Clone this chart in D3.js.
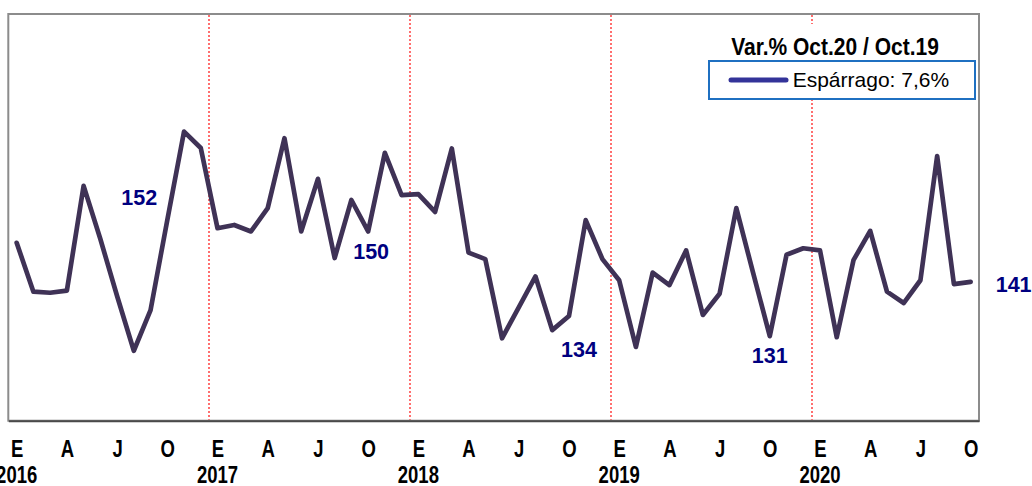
<!DOCTYPE html>
<html>
<head>
<meta charset="utf-8">
<script src="https://cdn.jsdelivr.net/npm/d3@7"></script>
<style>
body { margin: 0; background: #fff; }
svg { display: block; font-family: "Liberation Sans", Arial, sans-serif; }
</style>
</head>
<body>
<svg id="chart" width="1032" height="486"></svg>
<script>
// monthly series, Jan 2016 .. Oct 2020
const years = [2016, 2017, 2018, 2019, 2020];
const monthCodes = ["E", "F", "M", "A", "M", "J", "J", "A", "S", "O", "N", "D"];
const tickMonths = [0, 3, 6, 9];
const esparrago = [
  147.8, 138.8, 138.6, 139.0, 158.3, 148.5, 138.0, 127.9, 135.4, 152.0, 168.3, 165.3,
  150.5, 151.1, 149.9, 154.2, 167.1, 149.9, 159.6, 145.0, 155.7, 149.9, 164.4, 156.6,
  156.8, 153.5, 165.2, 146.0, 144.8, 130.2, 135.9, 141.6, 131.7, 134.3, 152.0, 144.8,
  140.9, 128.6, 142.3, 140.0, 146.4, 134.5, 138.4, 154.2, 142.3, 130.6, 145.6, 146.8,
  146.4, 130.4, 144.6, 150.0, 138.8, 136.7, 140.9, 163.8, 140.2, 140.6
];
const labelled = [9, 21, 33, 45, 57];          // October of each year
const labelOffsets = [[-28, -15], [3, 27.6], [10, 40.7], [0, 26.6], [43, 10.6]];
const legendTitle = "Var.% Oct.20 / Oct.19";
const legendEntry = "Espárrago: 7,6%";

const svg = d3.select("#chart");
const plotL = 8.3, plotR = 979, plotT = 14, plotB = 420.7;

const x = d3.scalePoint()
    .domain(d3.range(esparrago.length))
    .range([plotL, plotR])
    .padding(0.5);
const y = d3.scaleLinear().domain([115, 190]).range([plotB, plotT]);

// plot frame
svg.append("rect")
    .attr("x", plotL).attr("y", plotT)
    .attr("width", plotR - plotL).attr("height", plotB - plotT)
    .attr("fill", "none").attr("stroke", "#8c8c8c").attr("stroke-width", 2);

// year separators (red dotted)
years.slice(1).forEach((yr, k) => {
    const i = (k + 1) * 12;
    const xs = Math.round((x(i - 1) + x(i)) / 2);
    svg.append("line")
        .attr("x1", xs).attr("x2", xs).attr("y1", plotT + 1).attr("y2", plotB - 1)
        .attr("stroke", "#ff1010").attr("stroke-width", 1.2)
        .attr("stroke-dasharray", "2,2");
});

// x axis
const ticks = d3.range(esparrago.length).filter(i => tickMonths.includes(i % 12));
const axis = svg.append("g")
    .attr("transform", `translate(0,${plotB})`)
    .call(d3.axisBottom(x).tickValues(ticks).tickSize(0)
        .tickFormat(i => monthCodes[i % 12]));
axis.select(".domain").attr("stroke", "#4a4a4a").attr("stroke-width", 2);
axis.selectAll("text")
    .attr("y", 0).attr("dy", null)
    .attr("transform", "translate(0,36) scale(1,1.25)")
    .attr("fill", "#000")
    .style("font-size", "18.5px").style("font-weight", "bold")
    .style("font-family", '"Liberation Sans", Arial, sans-serif');

svg.append("g").selectAll("text")
    .data(years)
    .join("text")
    .attr("transform", (d, k) => `translate(${x(k * 12)},${plotB + 62}) scale(1,1.25)`)
    .attr("text-anchor", "middle")
    .style("font-size", "18.5px").style("font-weight", "bold")
    .text(d => d);

// series line
const line = d3.line().x((d, i) => x(i)).y(d => y(d));
svg.append("path")
    .datum(esparrago)
    .attr("d", line)
    .attr("fill", "none")
    .attr("stroke", "#3f3256")
    .attr("stroke-width", 4.7)
    .attr("stroke-linejoin", "round")
    .attr("stroke-linecap", "round");

// value labels
svg.append("g").selectAll("text")
    .data(labelled)
    .join("text")
    .attr("x", (d, k) => x(d) + labelOffsets[k][0])
    .attr("y", (d, k) => y(esparrago[d]) + labelOffsets[k][1])
    .attr("text-anchor", "middle")
    .attr("fill", "#000080")
    .style("font-size", "21.5px").style("font-weight", "bold")
    .text(d => Math.round(esparrago[d]));

// legend
const lg = svg.append("g");
lg.append("rect").attr("x", 722).attr("y", 24).attr("width", 226).attr("height", 37).attr("fill", "#fff");
lg.append("text")
    .attr("transform", "translate(835,55) scale(1,1.1)")
    .attr("text-anchor", "middle")
    .style("font-size", "21px").style("font-weight", "bold")
    .text(legendTitle);
lg.append("rect")
    .attr("x", 709).attr("y", 61).attr("width", 266).attr("height", 38)
    .attr("fill", "#fff").attr("stroke", "#1f70c1").attr("stroke-width", 2);
lg.append("line")
    .attr("x1", 731).attr("x2", 786).attr("y1", 80).attr("y2", 80)
    .attr("stroke", "#333399").attr("stroke-width", 5).attr("stroke-linecap", "round");
lg.append("text")
    .attr("x", 792.7).attr("y", 86.5)
    .style("font-size", "21px")
    .text(legendEntry);
</script>
</body>
</html>
